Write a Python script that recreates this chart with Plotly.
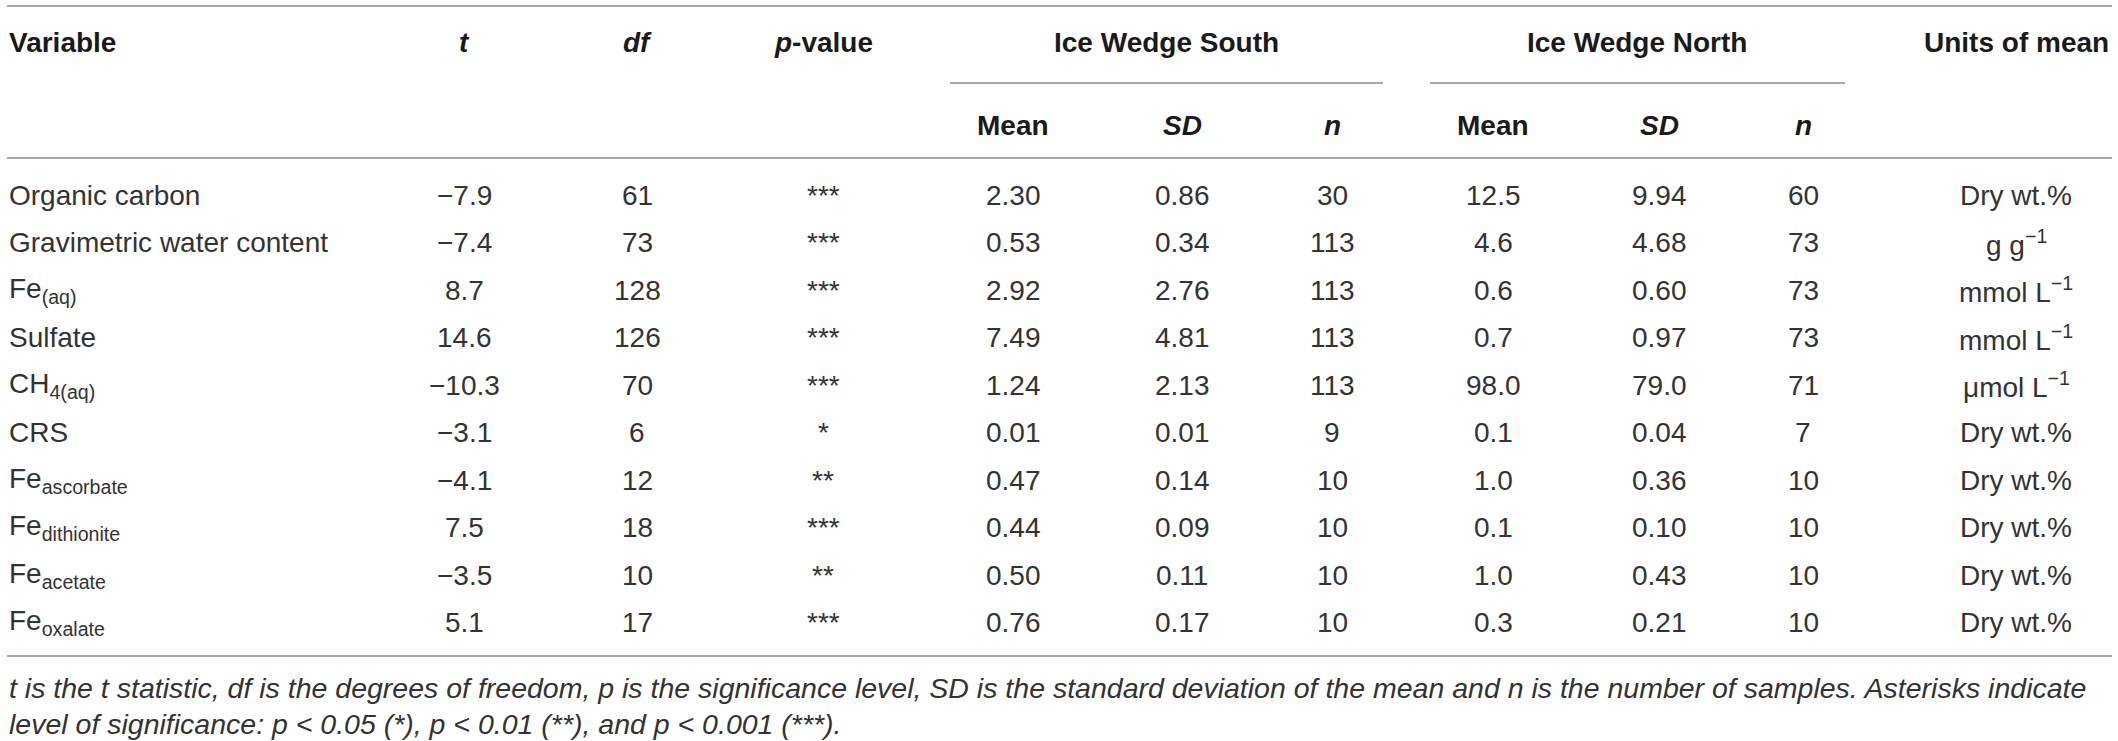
import plotly.graph_objects as go

# table content
variables = [
    "Organic carbon",
    "Gravimetric water content",
    "Fe<sub>(aq)</sub>",
    "Sulfate",
    "CH<sub>4(aq)</sub>",
    "CRS",
    "Fe<sub>ascorbate</sub>",
    "Fe<sub>dithionite</sub>",
    "Fe<sub>acetate</sub>",
    "Fe<sub>oxalate</sub>",
]
t_stat = [-7.9, -7.4, 8.7, 14.6, -10.3, -3.1, -4.1, 7.5, -3.5, 5.1]
deg_freedom = [61, 73, 128, 126, 70, 6, 12, 18, 10, 17]
p_stars = ["***", "***", "***", "***", "***", "*", "**", "***", "**", "***"]
south_mean = ["2.30", "0.53", "2.92", "7.49", "1.24", "0.01", "0.47", "0.44", "0.50", "0.76"]
south_sd = ["0.86", "0.34", "2.76", "4.81", "2.13", "0.01", "0.14", "0.09", "0.11", "0.17"]
south_n = [30, 113, 113, 113, 113, 9, 10, 10, 10, 10]
north_mean = ["12.5", "4.6", "0.6", "0.7", "98.0", "0.1", "1.0", "0.1", "1.0", "0.3"]
north_sd = ["9.94", "4.68", "0.60", "0.97", "79.0", "0.04", "0.36", "0.10", "0.43", "0.21"]
north_n = [60, 73, 73, 73, 71, 7, 10, 10, 10, 10]
units = [
    "Dry wt.%",
    "g g<sup>−1</sup>",
    "mmol L<sup>−1</sup>",
    "mmol L<sup>−1</sup>",
    "μmol L<sup>−1</sup>",
    "Dry wt.%",
    "Dry wt.%",
    "Dry wt.%",
    "Dry wt.%",
    "Dry wt.%",
]

top_headers = ["<b>Variable</b>", "<b><i>t</i></b>", "<b><i>df</i></b>", "<b><i>p</i>-value</b>",
               "<b>Ice Wedge South</b>", "<b>Ice Wedge North</b>", "<b>Units of mean</b>"]
sub_headers = ["<b>Mean</b>", "<b><i>SD</i></b>", "<b><i>n</i></b>"]

footnote = [
    "<i>t is the t statistic, df is the degrees of freedom, p is the significance level, SD is the "
    "standard deviation of the mean and n is the number of samples. Asterisks indicate</i>",
    "<i>level of significance: p < 0.05 (*), p < 0.01 (**), and p < 0.001 (***).</i>",
]

W, H = 2118, 741
FONT = "Liberation Sans, Arial, sans-serif"
TXT = "#333333"
HEAD = "#1a1a1a"
RULE = "#8c8c8c"

x_left = 7
x_right = 2112
col_x = {
    "t": 464, "df": 637, "p": 823,
    "s_mean": 1013, "s_sd": 1182, "s_n": 1332,
    "n_mean": 1493, "n_sd": 1659, "n_n": 1803,
    "units": 2016,
}
y_head1, y_head2 = 42, 125
y_row0, row_step = 195, 47.5


def fmt(v):
    return f"{v:.1f}".replace("-", "−")


fig = go.Figure()

annotations = []


def cell(x, y, text, anchor="center", color=TXT, size=28):
    annotations.append(dict(
        x=x, y=y, xref="x", yref="y", text=text, showarrow=False,
        xanchor=anchor, yanchor="middle", font=dict(family=FONT, size=size, color=color),
    ))


# header rows
head_x = [x_left, col_x["t"], col_x["df"], col_x["p"], 1166, 1637, col_x["units"]]
for i, (hx, label) in enumerate(zip(head_x, top_headers)):
    cell(hx, y_head1, label, anchor="left" if i == 0 else "center", color=HEAD)
for key_set in (("s_mean", "s_sd", "s_n"), ("n_mean", "n_sd", "n_n")):
    for key, label in zip(key_set, sub_headers):
        cell(col_x[key], y_head2, label, color=HEAD)

# body
columns = [
    ("t", [fmt(v) for v in t_stat]),
    ("df", [str(v) for v in deg_freedom]),
    ("p", p_stars),
    ("s_mean", south_mean),
    ("s_sd", south_sd),
    ("s_n", [str(v) for v in south_n]),
    ("n_mean", north_mean),
    ("n_sd", north_sd),
    ("n_n", [str(v) for v in north_n]),
    ("units", units),
]
for i, name in enumerate(variables):
    y = y_row0 + i * row_step
    cell(x_left, y, name, anchor="left")
    for key, vals in columns:
        cell(col_x[key], y, vals[i])

# footnote
for j, line in enumerate(footnote):
    cell(x_left, 688 + j * 36, line, anchor="left", size=28.5)

# table rules
rules = [
    (x_left, x_right, 6),
    (950, 1383, 83),
    (1430, 1845, 83),
    (x_left, x_right, 158),
    (x_left, x_right, 656),
]
for x0, x1, y in rules:
    fig.add_shape(type="line", x0=x0, x1=x1, y0=y, y1=y, xref="x", yref="y",
                  line=dict(color=RULE, width=1.5))

fig.update_layout(
    width=W,
    height=H,
    margin=dict(l=0, r=0, t=0, b=0),
    plot_bgcolor="white",
    paper_bgcolor="white",
    annotations=annotations,
    showlegend=False,
)
fig.update_xaxes(range=[0, W], visible=False, fixedrange=True)
fig.update_yaxes(range=[H, 0], visible=False, fixedrange=True)

fig.write_html(
    "out.html",
    config={"displayModeBar": False},
    post_script="document.body.style.margin='0';document.body.style.overflow='hidden';",
)
